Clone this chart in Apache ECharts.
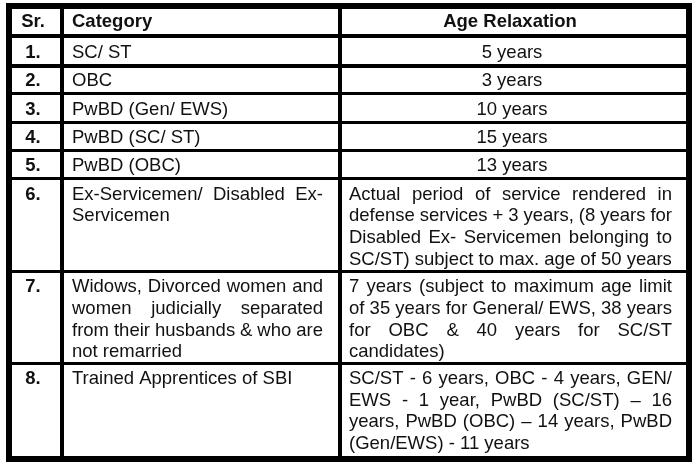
<!DOCTYPE html>
<html>
<head>
<meta charset="utf-8">
<script src="https://cdn.jsdelivr.net/npm/echarts@6/dist/echarts.min.js"></script>
<style>
html,body{margin:0;padding:0;background:#fff;}
#c{width:696px;height:467px;}
</style>
</head>
<body>
<div id="c"></div>
<script>
// ---------- DATA ----------
const headers = ['Sr.', 'Category', 'Age Relaxation'];
const serials = ['1.', '2.', '3.', '4.', '5.', '6.', '7.', '8.'];
const categories = [
  ['SC/ ST'],
  ['OBC'],
  ['PwBD (Gen/ EWS)'],
  ['PwBD (SC/ ST)'],
  ['PwBD (OBC)'],
  ['Ex-Servicemen/ Disabled Ex-', 'Servicemen'],
  ['Widows, Divorced women and', 'women judicially separated', 'from their husbands & who are', 'not remarried'],
  ['Trained Apprentices of SBI']
];
const relaxations = [
  ['5 years'],
  ['3 years'],
  ['10 years'],
  ['15 years'],
  ['13 years'],
  ['Actual period of service rendered in', 'defense services + 3 years, (8 years for', 'Disabled Ex- Servicemen belonging to', 'SC/ST) subject to max. age of 50 years'],
  ['7 years (subject to maximum age limit', 'of 35 years for General/ EWS, 38 years', 'for OBC & 40 years for SC/ST', 'candidates)'],
  ['SC/ST - 6 years, OBC - 4 years, GEN/', 'EWS - 1 year, PwBD (SC/ST) \u2013 16', 'years, PwBD (OBC) \u2013 14 years, PwBD', '(Gen/EWS) - 11 years']
];

// ---------- LAYOUT (pixel units of the hidden value axes) ----------
const W = 696, H = 467;
const colRules = [[6, 12], [60, 64], [338, 342], [686, 692]];
const rowRules = [[3, 9], [34, 38], [64, 68], [92, 95], [121, 124], [149, 152], [177, 180], [270, 273], [362, 365], [456, 462]];
const firstBaseline = [28, 58.5, 87, 116, 143.5, 172, 200.7, 293.3, 385];
const LINE_H = 21.6;
const FS = 18.5;
const FONT_FAMILY = '"Liberation Sans", Arial, Helvetica, sans-serif';
const MID_OFFSET = 6;
const TEXT_COLOR = '#111';
const srCenter = 33;
const catLeft = 72, catRight = 323;
const ageCenter = 512, ageHeaderCenter = 510, ageLeft = 349, ageRight = 672;

const mctx = document.createElement('canvas').getContext('2d');
function tw(s, bold) {
  mctx.font = (bold ? 'bold ' : '') + FS + 'px ' + FONT_FAMILY;
  return mctx.measureText(s).width;
}

function textEl(api, s, x, baseline, align, bold) {
  const p = api.coord([x, baseline - MID_OFFSET]);
  return {
    type: 'text',
    silent: true,
    style: {
      text: s, x: p[0], y: p[1],
      fill: TEXT_COLOR,
      fontSize: FS, fontFamily: FONT_FAMILY,
      fontWeight: bold ? 'bold' : 'normal',
      align: align, verticalAlign: 'middle'
    }
  };
}

function lineEls(api, line, left, right, baseline, justify, bold, out) {
  if (!justify) { out.push(textEl(api, line, left, baseline, 'left', bold)); return; }
  const words = line.split(' ').filter(w => w.length);
  const widths = words.map(w => tw(w, bold));
  const sum = widths.reduce((a, b) => a + b, 0);
  const gap = words.length > 1 ? (right - left - sum) / (words.length - 1) : 0;
  let x = left;
  words.forEach((w, i) => {
    out.push(textEl(api, w, x, baseline, 'left', bold));
    x += widths[i] + gap;
  });
}

function renderRow(params, api) {
  const r = api.value(0);
  const isHeader = r === 0;
  const cells = isHeader ? [[headers[0]], [headers[1]], [headers[2]]]
                         : [[serials[r - 1]], categories[r - 1], relaxations[r - 1]];
  const base = firstBaseline[r];
  const children = [];
  cells.forEach((lines, c) => {
    const bold = isHeader || c === 0;
    lines.forEach((line, k) => {
      const yb = base + k * LINE_H;
      const last = k === lines.length - 1;
      if (c === 0) {
        children.push(textEl(api, line, srCenter, yb, 'center', bold));
      } else if (c === 1) {
        lineEls(api, line, catLeft, catRight, yb, lines.length > 1 && !last, bold, children);
      } else {
        if (lines.length === 1) {
          children.push(textEl(api, line, isHeader ? ageHeaderCenter : ageCenter, yb, 'center', bold));
        } else {
          lineEls(api, line, ageLeft, ageRight, yb, !last, bold, children);
        }
      }
    });
  });
  return { type: 'group', children: children };
}

function renderRule(params, api) {
  const idx = api.value(0), kind = api.value(1);
  let x0, x1, y0, y1;
  if (kind === 0) {
    const e = rowRules[idx];
    x0 = colRules[0][0]; x1 = colRules[colRules.length - 1][1]; y0 = e[0]; y1 = e[1];
  } else {
    const e = colRules[idx];
    y0 = rowRules[0][0]; y1 = rowRules[rowRules.length - 1][1]; x0 = e[0]; x1 = e[1];
  }
  const a = api.coord([x0, y0]), b = api.coord([x1, y1]);
  return {
    type: 'rect', silent: true,
    shape: { x: a[0], y: a[1], width: b[0] - a[0], height: b[1] - a[1] },
    style: { fill: '#000' }
  };
}

const rowData = [0].concat(serials.map((s, i) => i + 1)).map(i => [i]);
const ruleData = rowRules.map((e, i) => [i, 0]).concat(colRules.map((e, i) => [i, 1]));

const chart = echarts.init(document.getElementById('c'), null, { renderer: 'canvas', width: W, height: H });
chart.setOption({
  backgroundColor: '#fff',
  animation: false,
  grid: { left: 0, right: 0, top: 0, bottom: 0 },
  xAxis: { type: 'value', min: 0, max: W, show: false },
  yAxis: { type: 'value', min: 0, max: H, inverse: true, show: false },
  series: [
    { type: 'custom', name: 'cells', renderItem: renderRow, data: rowData, clip: false, z: 2 },
    { type: 'custom', name: 'rules', renderItem: renderRule, data: ruleData, clip: false, z: 3 }
  ]
});
</script>
</body>
</html>
